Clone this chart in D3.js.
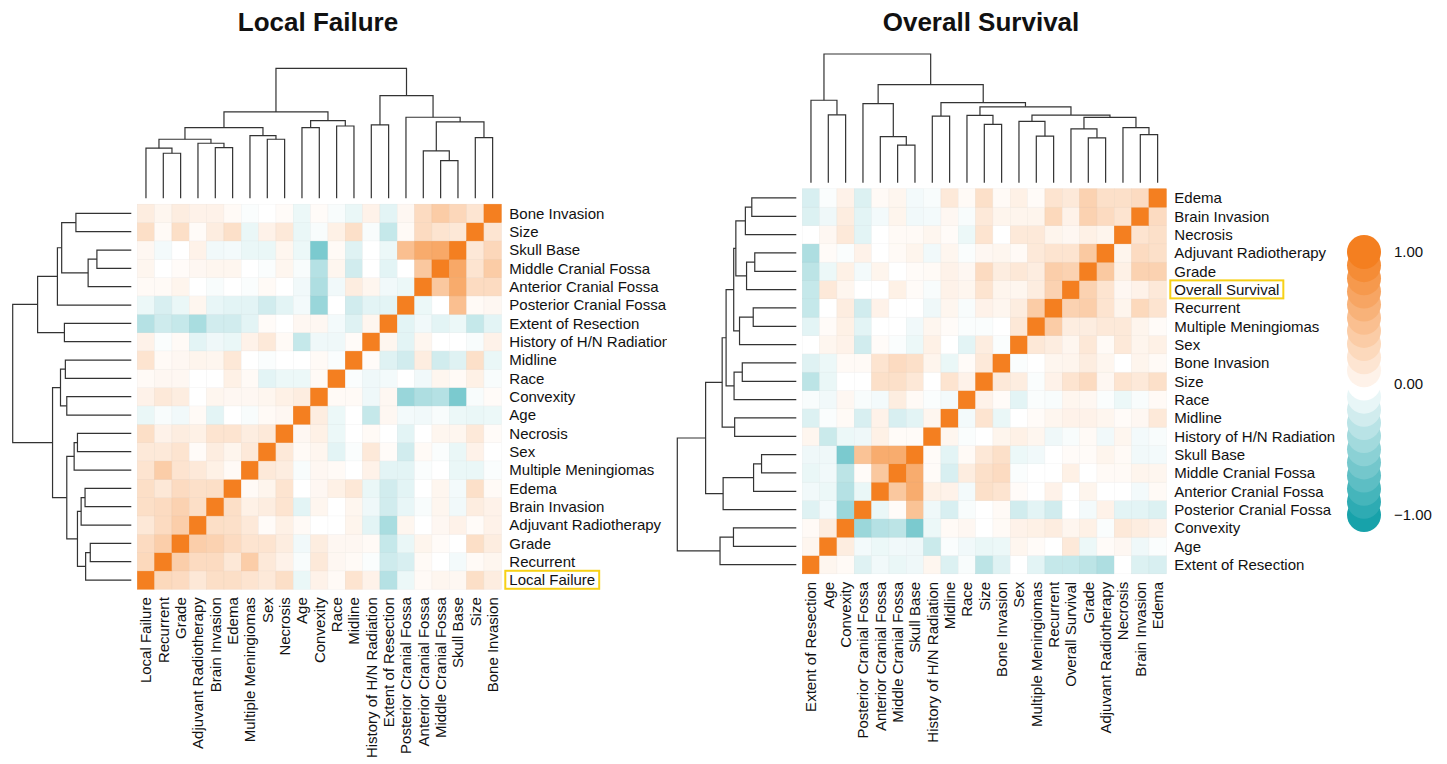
<!DOCTYPE html>
<html>
<head>
<meta charset="utf-8">
<script src="https://cdn.jsdelivr.net/npm/d3@7"></script>
<style>
  body { margin: 0; background: #fff; }
  svg text { font-family: "Liberation Sans", Arial, Helvetica, sans-serif; fill: #111; }
</style>
</head>
<body>
<svg width="1447" height="764"></svg>
<script>
// ---- Local Failure panel: leaf order of the clustering (left -> right)
var lfLeaves = ["Local Failure", "Recurrent", "Grade", "Adjuvant Radiotherapy", "Brain Invasion",
    "Edema", "Multiple Meningiomas", "Sex", "Necrosis", "Age", "Convexity", "Race", "Midline",
    "History of H/N Radiation", "Extent of Resection", "Posterior Cranial Fossa",
    "Anterior Cranial Fossa", "Middle Cranial Fossa", "Skull Base", "Size", "Bone Invasion"];

// lower triangle: lfCorr[i][j] = correlation of leaf i with leaf j (j < i)
var lfCorr = [
    [],
    [0.30],
    [0.28, 0.38],
    [0.18, 0.28, 0.38],
    [0.25, 0.28, 0.35, 0.25],
    [0.25, 0.18, 0.28, 0.24, 0.25],
    [0.21, 0.39, 0.21, 0.17, 0.11, 0.04],
    [0.17, 0.17, 0.21, 0.03, 0.14, 0.08, 0.17],
    [0.25, 0.10, 0.14, 0.11, 0.21, 0.21, 0.14, 0.17],
    [-0.09, -0.03, -0.06, 0.04, -0.12, 0.00, -0.03, 0.04, 0.06],
    [0.10, 0.17, 0.14, 0.00, 0.07, 0.06, 0.06, 0.07, 0.11, 0.14],
    [0.04, 0.06, 0.06, 0.00, 0.00, 0.11, 0.04, -0.12, -0.08, -0.08, 0.04],
    [0.21, 0.04, 0.06, 0.08, 0.07, 0.18, 0.00, -0.02, 0.00, 0.00, 0.04, -0.02],
    [0.10, -0.02, 0.04, -0.12, -0.07, -0.09, 0.10, 0.17, 0.04, -0.25, -0.07, -0.07, 0.03],
    [-0.32, -0.21, -0.25, -0.37, -0.20, -0.20, -0.12, 0.03, 0.00, 0.06, 0.06, -0.05, -0.14, 0.07],
    [-0.08, -0.17, -0.09, 0.07, -0.10, -0.12, -0.12, -0.20, -0.12, -0.05, -0.44, 0.00, -0.20, -0.12, -0.12],
    [0.04, 0.04, 0.08, 0.00, -0.03, 0.00, -0.02, 0.04, 0.00, -0.06, -0.35, -0.06, 0.14, 0.07, -0.06, -0.08],
    [0.07, 0.00, 0.03, 0.06, 0.07, 0.07, 0.00, -0.02, 0.07, -0.03, -0.32, 0.07, -0.20, 0.00, -0.12, 0.00, 0.43],
    [0.06, -0.05, 0.00, 0.10, -0.06, -0.05, -0.09, -0.09, 0.07, -0.08, -0.57, 0.04, -0.14, 0.00, -0.08, 0.50, 0.66, 0.68],
    [0.25, 0.04, 0.25, 0.03, 0.14, 0.24, -0.09, 0.10, 0.17, -0.09, -0.03, 0.11, 0.24, -0.03, -0.25, 0.04, 0.28, 0.21, 0.18],
    [0.14, 0.07, 0.14, 0.10, 0.10, 0.04, -0.02, 0.00, 0.03, -0.08, 0.03, -0.03, -0.09, 0.10, -0.12, 0.06, 0.28, 0.40, 0.31, 0.20]
];

// merges: [childA, childB, height]; ids 0..20 are leaves, merge k gets id 21 + k
var lfMerges = [
    [1, 2, 0.346], [0, 21, 0.385], [4, 5, 0.390], [3, 23, 0.423], [22, 24, 0.454],
    [7, 8, 0.454], [6, 26, 0.482], [25, 27, 0.544], [9, 10, 0.544], [11, 12, 0.556],
    [29, 30, 0.597], [28, 31, 0.664], [13, 14, 0.564], [17, 18, 0.290], [16, 34, 0.364],
    [19, 20, 0.467], [35, 36, 0.587], [15, 37, 0.623], [33, 38, 0.790], [32, 39, 1.0]
];

// ---- Overall Survival panel
var osLeaves = ["Extent of Resection", "Age", "Convexity", "Posterior Cranial Fossa",
    "Anterior Cranial Fossa", "Middle Cranial Fossa", "Skull Base", "History of H/N Radiation",
    "Midline", "Race", "Size", "Bone Invasion", "Sex", "Multiple Meningiomas", "Recurrent",
    "Overall Survival", "Grade", "Adjuvant Radiotherapy", "Necrosis", "Brain Invasion", "Edema"];

var osCorr = [
    [],
    [0.07],
    [0.04, 0.14],
    [-0.14, -0.05, -0.43],
    [-0.06, -0.08, -0.32, -0.09],
    [-0.09, -0.06, -0.29, 0.03, 0.43],
    [-0.07, -0.07, -0.57, 0.47, 0.65, 0.65],
    [0.07, -0.23, -0.08, -0.07, 0.11, 0.03, 0.03],
    [-0.15, -0.02, 0.04, -0.17, 0.10, -0.17, -0.12, 0.07],
    [-0.03, -0.06, 0.06, -0.03, -0.05, 0.14, 0.04, -0.02, -0.05],
    [-0.29, -0.09, 0.00, 0.00, 0.24, 0.24, 0.18, 0.00, 0.21, 0.10],
    [-0.14, -0.08, 0.04, 0.04, 0.21, 0.28, 0.24, 0.08, -0.09, 0.03, 0.17],
    [0.00, 0.07, 0.10, -0.20, 0.03, -0.02, -0.08, 0.11, 0.00, -0.12, 0.14, -0.02],
    [-0.12, 0.03, 0.11, -0.12, 0.00, 0.00, -0.06, 0.07, 0.03, -0.02, -0.02, 0.00, 0.18],
    [-0.25, 0.00, 0.14, -0.20, 0.10, 0.00, 0.00, -0.07, 0.07, -0.03, 0.10, 0.07, 0.14, 0.40],
    [-0.25, 0.17, 0.07, 0.00, 0.00, 0.11, 0.03, -0.03, 0.10, 0.07, 0.21, 0.08, 0.07, 0.14, 0.35],
    [-0.29, -0.08, 0.11, -0.05, 0.08, 0.00, 0.03, 0.04, 0.10, 0.06, 0.28, 0.14, 0.18, 0.14, 0.38, 0.35],
    [-0.35, 0.03, -0.02, 0.10, 0.00, 0.04, 0.08, -0.06, 0.07, -0.02, 0.06, 0.07, 0.04, 0.17, 0.21, 0.21, 0.42],
    [0.00, 0.06, 0.17, -0.12, 0.00, 0.04, 0.04, 0.07, 0.03, -0.08, 0.21, 0.00, 0.17, 0.17, 0.08, 0.06, 0.11, 0.08],
    [-0.15, -0.07, 0.14, -0.12, -0.05, 0.08, -0.06, -0.05, 0.06, -0.03, 0.17, 0.08, 0.08, 0.08, 0.30, 0.10, 0.35, 0.28, 0.21],
    [-0.17, -0.02, 0.10, -0.15, 0.04, 0.07, -0.05, -0.03, 0.17, 0.04, 0.24, 0.04, 0.11, 0.03, 0.21, 0.17, 0.35, 0.24, 0.24, 0.28]
];

var osMerges = [
    [1, 2, 0.528], [0, 21, 0.641], [5, 6, 0.292], [4, 23, 0.359], [3, 24, 0.615],
    [7, 8, 0.518], [10, 11, 0.454], [9, 27, 0.523], [13, 14, 0.362], [12, 29, 0.477],
    [16, 17, 0.349], [15, 31, 0.418], [19, 20, 0.374], [18, 33, 0.428], [32, 34, 0.508],
    [30, 35, 0.526], [28, 36, 0.590], [26, 37, 0.623], [25, 38, 0.762], [22, 39, 1.0]
];

// ---- legend
var legendValues = [-1, -0.9, -0.8, -0.7, -0.6, -0.5, -0.4, -0.3, -0.2, -0.1, 0,
    0.1, 0.2, 0.3, 0.4, 0.5, 0.6, 0.7, 0.8, 0.9, 1];
var legendTicks = [1, 0, -1];

var svg = d3.select("svg");
var orange = "#F47F20", teal = "#17A2AA";
var color = d3.scaleLinear().domain([-1, 0, 1]).range([teal, "#ffffff", orange]);

// the left panel's viewport cuts off the end of its longest row label
svg.append("defs").append("clipPath").attr("id", "clipLeft")
    .append("rect").attr("x", 0).attr("y", 0).attr("width", 667).attr("height", 764);

function corrValue(corr, i, j) {
    if (i === j) return 1;
    return i > j ? corr[i][j] : corr[j][i];
}

function drawPanel(cfg) {
    var g = svg.append("g").attr("clip-path", cfg.clip ? "url(#" + cfg.clip + ")" : null);

    var x = d3.scaleBand().domain(cfg.leaves).range([cfg.left, cfg.right]),
        y = d3.scaleBand().domain(cfg.leaves.slice().reverse()).range([cfg.top, cfg.bottom]);

    var cells = [];
    cfg.leaves.forEach(function(rowName, i) {
        cfg.leaves.forEach(function(colName, j) {
            cells.push({row: rowName, col: colName, value: corrValue(cfg.corr, i, j)});
        });
    });

    g.selectAll(".cell")
        .data(cells)
        .enter()
        .append("rect")
        .attr("class", "cell")
        .attr("x", function(d) { return x(d.col); })
        .attr("y", function(d) { return y(d.row); })
        .attr("width", x.bandwidth())
        .attr("height", y.bandwidth())
        .attr("fill", function(d) { return color(d.value); })
        .attr("stroke", function(d) { return d3.color(color(d.value)).darker(0.12); })
        .attr("stroke-width", 0.5);

    // row labels on the right
    var rowLabels = g.selectAll(".row-label")
        .data(cfg.leaves)
        .enter()
        .append("text")
        .attr("class", "row-label")
        .attr("x", cfg.right + 8)
        .attr("y", function(d) { return y(d) + y.bandwidth() / 2; })
        .attr("dy", "0.35em")
        .style("font-size", "15px")
        .text(function(d) { return d; });

    // column labels, rotated
    g.selectAll(".col-label")
        .data(cfg.leaves)
        .enter()
        .append("text")
        .attr("class", "col-label")
        .attr("transform", function(d) {
            return "translate(" + (x(d) + x.bandwidth() / 2) + "," + (cfg.bottom + 8) + ") rotate(-90)";
        })
        .attr("text-anchor", "end")
        .attr("dy", "0.35em")
        .style("font-size", "15px")
        .text(function(d) { return d; });

    // yellow box round the outcome label
    rowLabels.filter(function(d) { return d === cfg.highlight; }).each(function() {
        var bb = this.getBBox();
        g.append("rect")
            .attr("x", bb.x - 4)
            .attr("y", bb.y - 0.5)
            .attr("width", bb.width + 8)
            .attr("height", bb.height + 1)
            .attr("fill", "none")
            .attr("stroke", "#F7D117")
            .attr("stroke-width", 2);
    });

    // dendrogram node positions (leaf centre, then mid-point of children)
    var colPos = cfg.leaves.map(function(d) { return x(d) + x.bandwidth() / 2; }),
        rowPos = cfg.leaves.map(function(d) { return y(d) + y.bandwidth() / 2; }),
        heights = cfg.leaves.map(function() { return 0; });
    cfg.merges.forEach(function(m) {
        colPos.push((colPos[m[0]] + colPos[m[1]]) / 2);
        rowPos.push((rowPos[m[0]] + rowPos[m[1]]) / 2);
        heights.push(m[2]);
    });

    var hTop = d3.scaleLinear().domain([0, 1]).range([cfg.top - 6, cfg.topRoot]),
        hSide = d3.scaleLinear().domain([0, 1]).range([cfg.left - 6, cfg.sideRoot]);

    g.selectAll(".dendro-top")
        .data(cfg.merges)
        .enter()
        .append("path")
        .attr("class", "dendro-top")
        .attr("d", function(m) {
            return "M" + colPos[m[0]] + "," + hTop(heights[m[0]]) +
                "V" + hTop(m[2]) + "H" + colPos[m[1]] + "V" + hTop(heights[m[1]]);
        })
        .attr("fill", "none")
        .attr("stroke", "#333")
        .attr("stroke-width", 1.2);

    g.selectAll(".dendro-side")
        .data(cfg.merges)
        .enter()
        .append("path")
        .attr("class", "dendro-side")
        .attr("d", function(m) {
            return "M" + hSide(heights[m[0]]) + "," + rowPos[m[0]] +
                "H" + hSide(m[2]) + "V" + rowPos[m[1]] + "H" + hSide(heights[m[1]]);
        })
        .attr("fill", "none")
        .attr("stroke", "#333")
        .attr("stroke-width", 1.2);

    svg.append("text")
        .attr("x", cfg.titleX)
        .attr("y", 31)
        .attr("text-anchor", "middle")
        .style("font-size", "26px")
        .style("font-weight", "bold")
        .text(cfg.title);
}

drawPanel({
    title: "Local Failure", titleX: 318, leaves: lfLeaves, corr: lfCorr, merges: lfMerges,
    highlight: "Local Failure", clip: "clipLeft",
    left: 137.3, right: 501.3, top: 204.2, bottom: 589.2, topRoot: 68.3, sideRoot: 12.7
});

drawPanel({
    title: "Overall Survival", titleX: 981, leaves: osLeaves, corr: osCorr, merges: osMerges,
    highlight: "Overall Survival", clip: null,
    left: 802.3, right: 1166.3, top: 188.8, bottom: 573.8, topRoot: 54, sideRoot: 677.3
});

// legend: stacked circles, drawn from -1 upward so the upper ones overlap
var ly = d3.scaleLinear().domain([1, -1]).range([252, 515]);
var legend = svg.append("g").attr("class", "legend");

legend.selectAll("circle")
    .data(legendValues)
    .enter()
    .append("circle")
    .attr("cx", 1364)
    .attr("cy", function(d) { return ly(d); })
    .attr("r", 17)
    .attr("fill", function(d) { return color(d); });

legend.selectAll("text")
    .data(legendTicks)
    .enter()
    .append("text")
    .attr("x", 1394)
    .attr("y", function(d) { return ly(d); })
    .attr("dy", "0.35em")
    .style("font-size", "15px")
    .text(function(d) { return d3.format(".2f")(d).replace("-", "\u2212"); });
</script>
</body>
</html>
